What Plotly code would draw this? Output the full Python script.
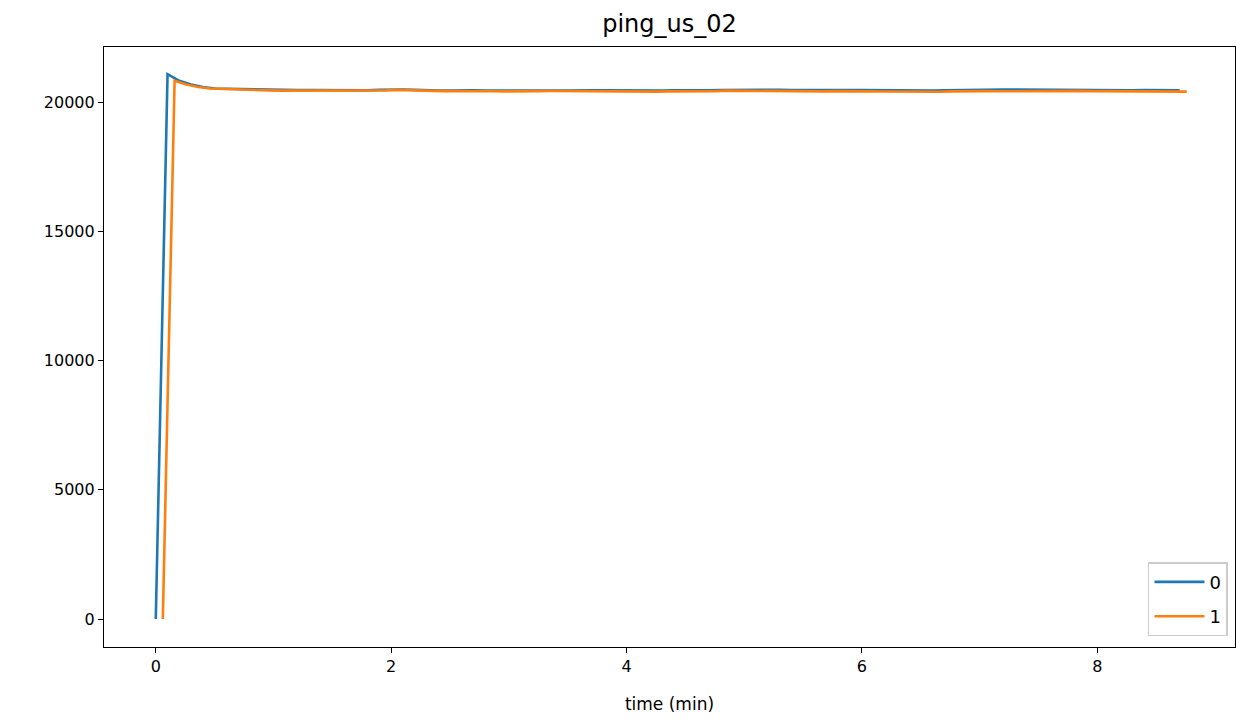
import plotly.graph_objects as go

step = 0.1
s0_start = 0.0
s1_start = 0.06

s0_values = [
    0, 21080, 20820, 20680, 20580, 20520, 20510, 20500, 20480, 20470,
    20460, 20455, 20460, 20465, 20460, 20470, 20465, 20455, 20450, 20470,
    20490, 20485, 20470, 20450, 20440, 20445, 20460, 20455, 20445, 20440,
    20435, 20440, 20450, 20445, 20440, 20445, 20460, 20455, 20450, 20445,
    20440, 20445, 20440, 20445, 20450, 20445, 20440, 20450, 20465, 20470,
    20465, 20470, 20475, 20470, 20460, 20465, 20470, 20465, 20470, 20465,
    20460, 20455, 20450, 20460, 20455, 20450, 20445, 20455, 20465, 20470,
    20475, 20480, 20485, 20480, 20475, 20475, 20470, 20460, 20455, 20450,
    20455, 20450, 20450, 20455, 20460, 20455, 20460, 20455,
]

s1_values = [
    0, 20820, 20680, 20580, 20520, 20500, 20490, 20470, 20460, 20450,
    20440, 20440, 20445, 20450, 20445, 20440, 20445, 20440, 20435, 20450,
    20470, 20465, 20450, 20430, 20420, 20425, 20430, 20425, 20415, 20410,
    20405, 20410, 20420, 20425, 20420, 20410, 20415, 20420, 20415, 20405,
    20400, 20405, 20400, 20410, 20415, 20405, 20400, 20420, 20440, 20435,
    20420, 20410, 20415, 20420, 20410, 20405, 20410, 20420, 20425, 20420,
    20410, 20405, 20400, 20410, 20405, 20400, 20395, 20410, 20420, 20425,
    20420, 20415, 20420, 20425, 20430, 20440, 20445, 20440, 20430, 20420,
    20420, 20415, 20410, 20405, 20410, 20405, 20400, 20400,
]

s0_t = [s0_start + i * step for i in range(len(s0_values))]
s1_t = [s1_start + i * step for i in range(len(s1_values))]

series_names = ["0", "1"]
colors = ["#1f77b4", "#ff7f0e"]
y_ticks = [0, 5000, 10000, 15000, 20000]
x_ticks = [0, 2, 4, 6, 8]

fig = go.Figure()
fig.add_trace(go.Scatter(x=s0_t, y=s0_values, mode="lines", name=series_names[0],
                         legendgroup="g0",
                         line=dict(color=colors[0], width=2.6)))
fig.add_trace(go.Scatter(x=s1_t, y=s1_values, mode="lines", name=series_names[1],
                         legendgroup="g1",
                         line=dict(color=colors[1], width=2.6)))

font = "DejaVu Sans, sans-serif"
axis_common = dict(
    showline=True, linecolor="black", linewidth=1.2, mirror=True,
    ticks="outside", ticklen=5, tickwidth=1.2, tickcolor="black",
    showgrid=False, zeroline=False,
    tickfont=dict(family=font, size=16, color="black"),
)

fig.update_layout(
    width=1236, height=719,
    paper_bgcolor="white", plot_bgcolor="white",
    margin=dict(l=104, r=1, t=47, b=72, autoexpand=False),
    title=dict(text="ping_us_02", x=0.5, xref="paper", xanchor="center",
               y=0.9666, yanchor="middle",
               font=dict(family=font, size=24, color="black")),
    xaxis=dict(range=[-0.44, 9.17], tickvals=x_ticks,
               title=dict(text="time (min)", font=dict(family=font, size=17, color="black"), standoff=22),
               **axis_common),
    yaxis=dict(range=[-1083, 22128], tickvals=y_ticks,
               ticktext=[str(v) for v in y_ticks],
               **axis_common),
    legend=dict(x=0.9938, y=0.018, xanchor="right", yanchor="bottom",
                bgcolor="rgba(255,255,255,0.8)", bordercolor="#cccccc", borderwidth=1.5,
                itemwidth=50, tracegroupgap=8,
                font=dict(family=font, size=18, color="black")),
    showlegend=True,
)

fig.write_html("out.html", config={"displayModeBar": False},
               post_script="document.body.style.margin='0';document.body.style.overflow='hidden';")
